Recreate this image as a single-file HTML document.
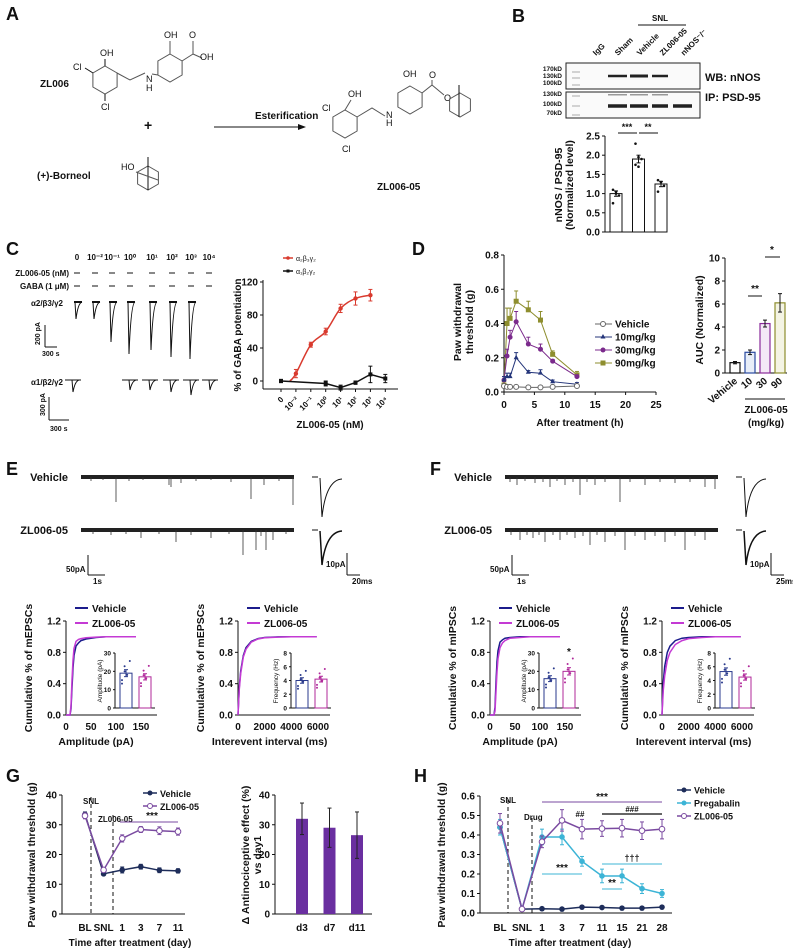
<!DOCTYPE html>
<html><head><meta charset="utf-8"><style>
html,body{margin:0;padding:0;background:#fff;}
svg{display:block;font-family:"Liberation Sans Narrow","Liberation Sans",Arial,sans-serif;}
</style></head><body>
<svg id="fig" width="793" height="951" viewBox="0 0 793 951" xmlns="http://www.w3.org/2000/svg"></svg>
<script>
// ===== DATA =====
// B
const bCats=['Sham','Vehicle','ZL006-05'];
const bVals=[1.0,1.9,1.25];
const bErr=[0.07,0.1,0.07];
const bDots=[[1.1,1.05,0.95,0.75,1.0],[2.3,1.95,1.9,1.75,1.7],[1.35,1.3,1.2,1.05]];
const bTicks=[0,0.5,1.0,1.5,2.0,2.5];
// C
const cCats=['0','10⁻²','10⁻¹','10⁰','10¹','10²','10³','10⁴'];
const cRedIdx=[1,2,3,4,5,6];
const cRedVals=[9,44,60,88,100,104];
const cRedErr=[5,3,4,5,8,7];
const cBlkIdx=[0,3,4,5,6,7];
const cBlkVals=[0,-3,-8,-2,8,3];
const cBlkErr=[2,3,3,2,10,5];
const cTicks=[0,40,80,120];
// D
const dTimes=[0,0.5,1,2,4,6,8,12];
const dVeh=[0.035,0.03,0.03,0.03,0.027,0.027,0.03,0.035];
const d10=[0.07,0.09,0.09,0.2,0.115,0.11,0.06,0.045];
const d30=[0.07,0.21,0.32,0.41,0.28,0.25,0.18,0.09];
const d90=[0.04,0.40,0.43,0.53,0.48,0.42,0.22,0.10];
const d10Err=[0.02,0.02,0.02,0.03,0.01,0.02,0.01,0.01];
const d30Err=[0.02,0.04,0.04,0.06,0.04,0.03,0.01,0.01];
const d90Err=[0.02,0.09,0.06,0.06,0.05,0.05,0.02,0.02];
const dXTicks=[0,5,10,15,20,25];
const dYTicks=[0,0.2,0.4,0.6,0.8];
const aucCats=['Vehicle','10','30','90'];
const aucVals=[0.9,1.8,4.3,6.1];
const aucErr=[0.1,0.2,0.3,0.8];
const aucTicks=[0,2,4,6,8,10];
// E/F cumulative
const ampX=[0,8,10,12,14,16,20,25,30,40,60,80,100,140];
const eAmpVeh=[0,0,0.08,0.35,0.6,0.76,0.88,0.92,0.95,0.97,0.99,1,1,1];
const eAmpZL=[0,0,0.12,0.45,0.7,0.85,0.94,0.965,0.975,0.985,0.995,1,1,1];
const fAmpVeh=[0,0,0.1,0.42,0.68,0.82,0.93,0.96,0.98,0.99,1,1,1,1];
const fAmpZL=[0,0,0.05,0.3,0.55,0.72,0.86,0.92,0.95,0.98,0.99,1,1,1];
const ivX=[0,50,100,200,400,600,1000,1500,2000,3000,4000,5900];
const eIvVeh=[0,0.2,0.36,0.56,0.76,0.86,0.94,0.975,0.99,0.997,1,1];
const eIvZL=[0,0.18,0.33,0.53,0.74,0.84,0.93,0.97,0.985,0.995,1,1];
const fIvVeh=[0,0.25,0.42,0.62,0.8,0.88,0.95,0.98,0.99,1,1,1];
const fIvZL=[0,0.18,0.32,0.5,0.7,0.8,0.9,0.95,0.975,0.99,1,1];
const eAmpBars=[19,17];
const eFreqBars=[4.0,4.2];
const fAmpBars=[16,20];
const fFreqBars=[5.3,4.5];
// G
const gCats=['BL','SNL','1','3','7','11'];
const gVeh=[33.5,13.5,14.8,15.9,14.7,14.5];
const gVehErr=[0.8,0.5,1.0,0.8,0.8,0.7];
const gZL=[33,14.8,25.4,28.4,28,27.7];
const gZLErr=[1.0,0.8,1.2,1.0,1.3,1.2];
const gYTicks=[0,10,20,30,40];
const g2Cats=['d3','d7','d11'];
const g2Vals=[32,29,26.5];
const g2Err=[5.3,6.6,7.8];
// H
const hCats=['BL','SNL','1','3','7','11','15','21','28'];
const hVeh=[0.44,0.02,0.022,0.02,0.03,0.028,0.025,0.025,0.03];
const hPre=[0.44,0.02,0.39,0.39,0.265,0.19,0.19,0.125,0.10];
const hPreErr=[0.04,0.01,0.04,0.04,0.025,0.035,0.035,0.025,0.02];
const hZL=[0.46,0.02,0.365,0.475,0.43,0.433,0.435,0.422,0.43];
const hZLErr=[0.05,0.01,0.03,0.055,0.05,0.04,0.045,0.045,0.05];
const hYTicks=[0,0.1,0.2,0.3,0.4,0.5,0.6];

// ===== HELPERS =====
const NS='http://www.w3.org/2000/svg';
const svg=document.getElementById('fig');
function mk(tag,a,name,parent){
  const el=document.createElementNS(NS,tag);
  for(const k in a) el.setAttribute(k,a[k]);
  
  
  (parent||svg).appendChild(el);
  return el;
}
function T(x,y,s,name,o){
  o=o||{};
  const a={x:x,y:y,'font-size':o.size||10,'font-weight':o.w||'bold','text-anchor':o.anchor||'start',fill:o.fill||'#111'};
  if(o.rot!==undefined) a.transform='rotate('+o.rot+' '+x+' '+y+')';
  const el=mk('text',a,name);
  el.textContent=s;
  return el;
}
function L(x1,y1,x2,y2,name,o){
  o=o||{};
  const a={x1:x1,y1:y1,x2:x2,y2:y2,stroke:o.c||'#111','stroke-width':o.w||1};
  if(o.dash) a['stroke-dasharray']=o.dash;
  return mk('line',a,name);
}
function P(d,name,o){
  o=o||{};
  return mk('path',{d:d,fill:o.fill||'none',stroke:o.c||'#111','stroke-width':o.w||1},name);
}
function lin(d0,d1,r0,r1){return v=>r0+(v-d0)*(r1-r0)/(d1-d0);}
function err(x,y1,y2,c,name){L(x,y1,x,y2,name,{c:c});L(x-2,y1,x+2,y1,name+'-cap',{c:c});L(x-2,y2,x+2,y2,name+'-cap',{c:c});}
function marker(type,x,y,c,name,s){
  s=s||3;
  if(type==='circle') return mk('circle',{cx:x,cy:y,r:s,fill:c},name);
  if(type==='open') return mk('circle',{cx:x,cy:y,r:s,fill:'#fff',stroke:c,'stroke-width':1},name);
  if(type==='tri') return mk('polygon',{points:(x)+','+(y-s-0.5)+' '+(x-s)+','+(y+s-1)+' '+(x+s)+','+(y+s-1),fill:c},name);
  if(type==='sq') return mk('rect',{x:x-s,y:y-s,width:2*s,height:2*s,fill:c},name);
}
function poly(pts){return 'M'+pts.map(p=>p[0].toFixed(1)+','+p[1].toFixed(1)).join('L');}
function smooth(pts){
  let d='M'+pts[0][0]+','+pts[0][1];
  for(let i=0;i<pts.length-1;i++){
    const p0=pts[Math.max(0,i-1)],p1=pts[i],p2=pts[i+1],p3=pts[Math.min(pts.length-1,i+2)];
    d+='C'+(p1[0]+(p2[0]-p0[0])/6)+','+(p1[1]+(p2[1]-p0[1])/6)+' '+(p2[0]-(p3[0]-p1[0])/6)+','+(p2[1]-(p3[1]-p1[1])/6)+' '+p2[0]+','+p2[1];
  }
  return d;
}
function hex(cx,cy,r,name){
  const pts=[];for(let i=0;i<6;i++){const a=Math.PI/180*(60*i-90);pts.push([cx+r*Math.cos(a),cy+r*Math.sin(a)]);}
  P(poly(pts)+'Z',name,{c:'#555',w:1});
  return pts;
}
function yTicks(ax,sy,ticks,fmt,name,len){
  ticks.forEach(t=>{L(ax-(len||3),sy(t),ax,sy(t),name+'-tick');T(ax-5,sy(t)+3.5,fmt(t),name+'-label',{anchor:'end',size:10});});
}

// ===== PANEL A =====
T(6,20,'A','panel-label-a',{size:18});
T(40,87,'ZL006','zl006-label',{size:10});
hex(105,80,14,'zl006-ring-1');
T(100,56,'OH','oh-label',{size:9,w:'normal'});L(105,66,105,59,'bond');
T(73,70,'Cl','cl-label',{size:9,w:'normal'});L(93,73,85,68,'bond');
T(101,110,'Cl','cl-label',{size:9,w:'normal'});L(105,94,105,101,'bond');
P('M117,73 L130,80 L145,73','bond-chain',{c:'#555'});
T(146,82,'N','n-label',{size:9,w:'normal'});T(146,91,'H','h-label',{size:9,w:'normal'});
hex(170,68,14,'zl006-ring-2');L(152,74,158,75,'bond',{c:'#555'});
T(164,38,'OH','oh-label',{size:9,w:'normal'});L(170,54,170,41,'bond',{c:'#555'});
P('M182,61 L193,54 L193,41 M193,54 L202,58','acid-bond',{c:'#555'});
T(189,38,'O','o-label',{size:9,w:'normal'});T(200,60,'OH','oh-label',{size:9,w:'normal'});
T(144,130,'+','plus-sign',{size:14});
T(37,179,'(+)-Borneol','borneol-label',{size:10});
T(121,170,'HO','ho-label',{size:9,w:'normal'});
hex(148,178,12,'borneol-ring');L(148,157,148,190,'borneol-bridge');L(136,172,158,180,'borneol-bond',{c:'#555'});
T(255,119,'Esterification','esterification-label',{size:10});
L(214,127,300,127,'reaction-arrow');mk('polygon',{points:'306,127 298,124 298,130',fill:'#111'},'arrow-head');
hex(345,124,14,'product-ring-1');
T(348,97,'OH','oh-label',{size:9,w:'normal'});L(345,110,351,100,'bond',{c:'#555'});
T(322,111,'Cl','cl-label',{size:9,w:'normal'});
T(342,152,'Cl','cl-label',{size:9,w:'normal'});
P('M357,117 L372,108 L385,116','bond-chain',{c:'#555'});
T(386,118,'N','n-label',{size:9,w:'normal'});T(386,126,'H','h-label',{size:9,w:'normal'});
hex(410,100,14,'product-ring-2');
T(403,77,'OH','oh-label',{size:9,w:'normal'});
P('M422,93 L432,85 L432,80 M432,85 L444,95','ester-bond',{c:'#555'});
T(429,78,'O','o-label',{size:9,w:'normal'});T(444,101,'O','o-label',{size:9,w:'normal'});
hex(460,105,12,'product-borneol');L(459,85,459,117,'borneol-bridge');
T(377,190,'ZL006-05','zl006-05-label',{size:10});

// ===== PANEL B =====
T(512,22,'B','panel-label-b',{size:18});
T(660,21,'SNL','snl-label',{size:8,anchor:'middle'});L(638,25,686,25,'snl-bracket');
[['IgG',596],['Sham',618],['Vehicle',640],['ZL006-05',663],['nNOS⁻/⁻',684]].forEach(l=>T(l[1],56,l[0],'lane-label',{size:8,rot:-45}));
mk('rect',{x:566,y:63,width:134,height:26,fill:'#fafafa',stroke:'#222','stroke-width':1},'wb-blot');
mk('rect',{x:566,y:92,width:134,height:26,fill:'#fafafa',stroke:'#222','stroke-width':1},'ip-blot');
[['170kD',71],['130kD',78],['100kD',85],['130kD',96],['100kD',106],['70kD',115]].forEach(m=>T(562,m[1],m[0],'mw-label',{size:6.5,anchor:'end'}));
[[608,627,76,2.5],[630,648,76,3],[652,668,76,2.5],[608,627,106,3.5],[630,648,106,3.5],[652,668,106,3.5],[673,692,106,3.5]].forEach(b=>mk('rect',{x:b[0],y:b[2]-b[3]/2,width:b[1]-b[0],height:b[3],fill:'#222'},'blot-band'));
[[608,627],[630,648],[652,668]].forEach(b=>mk('rect',{x:b[0],y:94,width:b[1]-b[0],height:1.5,fill:'#999'},'faint-band'));
[72,78,85,96,106,115].forEach(y=>L(572,y,580,y,'ladder-band',{c:'#aaa'}));
T(705,81,'WB: nNOS','wb-label',{size:11});
T(705,101,'IP: PSD-95','ip-label',{size:11});
(function(){
  const sy=lin(0,2.5,232,136), ax=605;
  L(ax,136,ax,232,'b-y-axis');L(ax,232,665,232,'b-x-axis');
  yTicks(ax,sy,bTicks,t=>t.toFixed(1),'b-y');
  T(562,185,'nNOS / PSD-95','b-y-title',{size:10.5,anchor:'middle',rot:-90});
  T(573,185,'(Normalized level)','b-y-title-2',{size:10.5,anchor:'middle',rot:-90});
  bVals.forEach((v,i)=>{
    const cx=616+i*22.5;
    mk('rect',{x:cx-6,y:sy(v),width:12,height:232-sy(v),fill:'#fff',stroke:'#111','stroke-width':1},'b-bar-'+bCats[i]);
    err(cx,sy(v+bErr[i]),sy(v-bErr[i]),'#111','b-err');
    bDots[i].forEach((d,j)=>marker('circle',cx-3+(j%3)*3,sy(d),'#111','b-dot',1.3));
  });
  L(618,133,637,133,'b-sig-line');T(627,130,'***','b-sig',{size:9,anchor:'middle'});
  L(639,133,658,133,'b-sig-line');T(648,130,'**','b-sig',{size:9,anchor:'middle'});
})();

// ===== PANEL C =====
T(6,255,'C','panel-label-c',{size:18});
const cCols=[77,95,112,130,152,172,191,209];
cCats.forEach((c,i)=>T(cCols[i],260,c,'c-conc-header',{size:8,anchor:'middle'}));
T(69,276,'ZL006-05 (nM)','c-drug-row',{size:8,anchor:'end'});
T(69,289,'GABA (1 μM)','c-gaba-row',{size:8,anchor:'end'});
cCols.forEach(x=>{L(x-3,273,x+3,273,'drug-dash');L(x-3,286,x+3,286,'gaba-dash');});
T(63,306,'α2/β3/γ2','c-a2-label',{size:8,anchor:'end'});
const a2Depth=[17,17,40,52,48,55,57,0];
cCols.forEach((x,i)=>{if(!a2Depth[i])return;L(x-3,302,x+5,302,'trace-base',{w:2});P('M'+(x-2)+',302 L'+(x-1)+','+(302+a2Depth[i])+' Q'+(x+1)+','+(303)+' '+(x+5)+',302','c-a2-trace');});
L(45,325,45,347,'c-scale-v');L(45,347,57,347,'c-scale-h');T(40,345,'200 pA','c-scale-label',{size:7,rot:-90});T(42,356,'300 s','c-scale-label',{size:7});
T(63,385,'α1/β2/γ2','c-a1-label',{size:8,anchor:'end'});
const a1X=[73,0,0,130,150,171,191,210], a1Depth=[12,0,0,10,10,12,15,10];
a1X.forEach((x,i)=>{if(!x)return;L(x-8,380,x+8,380,'trace-base');P('M'+(x-1)+',380 L'+x+','+(380+a1Depth[i])+' Q'+(x+2)+',381 '+(x+6)+',380','c-a1-trace');});
L(49,397,49,420,'c-scale-v');L(49,420,69,420,'c-scale-h');T(45,416,'300 pA','c-scale-label',{size:7,rot:-90});T(50,431,'300 s','c-scale-label',{size:7});
(function(){
  const sy=lin(0,40,381,348), sx=i=>281+i*14.9, ax=263;
  L(ax,280,ax,389,'c-y-axis');L(ax,389,398,389,'c-x-axis');
  yTicks(ax,sy,cTicks,t=>String(t),'c-y');
  cCats.forEach((c,i)=>{L(sx(i),389,sx(i),392,'c-x-tick');T(sx(i)+3,400,c,'c-x-label',{size:8,anchor:'end',rot:-45});});
  T(330,428,'ZL006-05 (nM)','c-x-title',{size:10,anchor:'middle'});
  T(241,335,'% of GABA potentiation','c-y-title',{size:10,anchor:'middle',rot:-90});
  const red=[[sx(0.6),sy(0)]].concat(cRedIdx.map((k,j)=>[sx(k),sy(cRedVals[j])]));
  P(smooth(red),'c-red-fit',{c:'#d93a2e',w:1.5});
  cRedIdx.forEach((k,j)=>{err(sx(k),sy(cRedVals[j]+cRedErr[j]),sy(cRedVals[j]-cRedErr[j]),'#d93a2e','c-red-err');marker('circle',sx(k),sy(cRedVals[j]),'#d93a2e','c-red-point',2.2);});
  P(poly(cBlkIdx.map((k,j)=>[sx(k),sy(cBlkVals[j])])),'c-black-line',{c:'#111',w:1.5});
  cBlkIdx.forEach((k,j)=>{err(sx(k),sy(cBlkVals[j]+cBlkErr[j]),sy(cBlkVals[j]-cBlkErr[j]),'#111','c-black-err');marker('sq',sx(k),sy(cBlkVals[j]),'#111','c-black-point',2);});
  L(283,258,293,258,'c-legend-red',{c:'#d93a2e',w:1.5});marker('circle',288,258,'#d93a2e','c-legend-marker',1.8);T(296,261,'α₂β₃γ₂','c-legend-text',{size:7,w:'normal'});
  L(283,271,293,271,'c-legend-black',{w:1.5});marker('sq',288,271,'#111','c-legend-marker',1.5);T(296,274,'α₁β₂γ₂','c-legend-text',{size:7,w:'normal'});
})();

// ===== PANEL D =====
T(412,255,'D','panel-label-d',{size:18});
(function(){
  const sx=lin(0,25,504,656), sy=lin(0,0.8,392,255), ax=504;
  L(ax,255,ax,392,'d-y-axis');L(ax,392,656,392,'d-x-axis');
  yTicks(ax,sy,dYTicks,t=>t.toFixed(1),'d-y');
  dXTicks.forEach(t=>{L(sx(t),392,sx(t),395,'d-x-tick');T(sx(t),408,String(t),'d-x-label',{size:10,anchor:'middle'});});
  T(580,426,'After treatment (h)','d-x-title',{size:10,anchor:'middle'});
  T(461,322,'Paw withdrawal','d-y-title',{size:10.5,anchor:'middle',rot:-90});
  T(473,322,'threshold (g)','d-y-title-2',{size:10.5,anchor:'middle',rot:-90});
  const series=[[d90,d90Err,'#8e8e2e','sq','90mg/kg'],[d30,d30Err,'#7b2a8c','circle','30mg/kg'],[d10,d10Err,'#24357a','tri','10mg/kg'],[dVeh,null,'#666','open','Vehicle']];
  series.forEach(s=>{
    P(poly(dTimes.map((t,i)=>[sx(t),sy(s[0][i])])),'d-line-'+s[4],{c:s[2],w:1});
    dTimes.forEach((t,i)=>{if(s[1]){L(sx(t),sy(s[0][i]),sx(t),sy(s[0][i]+s[1][i]),'d-err',{c:s[2]});L(sx(t)-2,sy(s[0][i]+s[1][i]),sx(t)+2,sy(s[0][i]+s[1][i]),'d-err-cap',{c:s[2]});}marker(s[3],sx(t),sy(s[0][i]),s[2],'d-point-'+s[4],2.5);});
  });
  [['Vehicle','#666','open',324],['10mg/kg','#24357a','tri',337],['30mg/kg','#7b2a8c','circle',350],['90mg/kg','#8e8e2e','sq',363]].forEach(l=>{
    L(595,l[3],612,l[3],'d-legend-line',{c:l[1]});marker(l[2],603,l[3],l[1],'d-legend-marker',2.5);T(615,l[3]+3.5,l[0],'d-legend-text',{size:10});
  });
})();
(function(){
  const sy=lin(0,10,373,258), ax=725;
  L(ax,258,ax,373,'auc-y-axis');L(ax,373,787,373,'auc-x-axis');
  yTicks(ax,sy,aucTicks,t=>String(t),'auc-y');
  T(703,320,'AUC (Normalized)','auc-y-title',{size:10.5,anchor:'middle',rot:-90});
  const cols=['#111','#2a4aa0','#8a2a9a','#8e8e2e'], fills=['#fff','#e8eef8','#f4e8f6','#f4f4e4'];
  aucVals.forEach((v,i)=>{
    const cx=735+i*15;
    mk('rect',{x:cx-5,y:sy(v),width:10,height:373-sy(v),fill:fills[i],stroke:cols[i],'stroke-width':1.2},'auc-bar-'+aucCats[i]);
    err(cx,sy(v+aucErr[i]),sy(v-aucErr[i]),'#111','auc-err');
    T(cx+3,382,aucCats[i],'auc-x-label',{size:10,anchor:'end',rot:-40});
  });
  L(745,399,785,399,'auc-group-line');
  T(766,413,'ZL006-05','auc-group-label',{size:10,anchor:'middle'});
  T(766,426,'(mg/kg)','auc-group-unit',{size:10,anchor:'middle'});
  L(748,296,762,296,'auc-sig-line');T(755,292,'**','auc-sig',{size:10,anchor:'middle'});
  L(765,257,780,257,'auc-sig-line');T(772,253,'*','auc-sig',{size:10,anchor:'middle'});
})();

// ===== PANELS E & F =====
function ephys(dx,letter,ylabel,freqLab,ampBars,freqBars,ampV,ampZ,ivV,ivZ,spikesV,spikesZ,tscale,sigAmp){
  T(dx+6,475,letter,'panel-label-'+letter.toLowerCase(),{size:18});
  T(dx+68,481,'Vehicle','trace-label-vehicle',{size:11,anchor:'end'});
  T(dx+68,534,'ZL006-05','trace-label-zl',{size:11,anchor:'end'});
  [[477,spikesV],[530,spikesZ]].forEach(r=>{
    mk('rect',{x:dx+81,y:r[0]-2,width:213,height:4,fill:'#222'},'trace-baseline');
    r[1].forEach(s=>L(dx+81+s[0],r[0],dx+81+s[0],r[0]+s[1],'trace-event',{c:'#333',w:0.8}));
  });
  L(dx+312,477,dx+318,477,'avg-base');P('M'+(dx+320)+',478 L'+(dx+322)+',517 Q'+(dx+326)+',480 '+(dx+342)+',479','avg-trace-vehicle');
  L(dx+312,530,dx+318,530,'avg-base');P('M'+(dx+320)+',531 L'+(dx+322)+',565 Q'+(dx+326)+',532 '+(dx+342)+',531','avg-trace-zl',{w:1.5});
  L(dx+88,555,dx+88,575,'scale-v');L(dx+88,575,dx+105,575,'scale-h');T(dx+66,572,'50pA','scale-label',{size:8});T(dx+93,584,'1s','scale-label',{size:8});
  L(dx+347,553,dx+347,575,'scale-v');L(dx+347,575,dx+360,575,'scale-h');T(dx+326,567,'10pA','scale-label',{size:8});T(dx+352,584,tscale,'scale-label',{size:8});
  const syc=lin(0,1.2,715,621);
  const plots=[[66,lin(0,150,66,141),157,ampX,ampV,ampZ,[0,50,100,150],'Amplitude (pA)',115,'Amplitude (pA)',ampBars,30,[0,10,20,30]],
               [238,lin(0,6000,238,318),330,ivX,ivV,ivZ,[0,2000,4000,6000],'Interevent interval (ms)',291,freqLab,freqBars,8,[0,2,4,6,8]]];
  plots.forEach((p,pi)=>{
    const ax=dx+p[0], sx=v=>dx+p[1](v);
    L(ax,621,ax,715,'cum-y-axis');L(ax,715,dx+p[2],715,'cum-x-axis');
    yTicks(ax,syc,[0,0.4,0.8,1.2],t=>t.toFixed(1),'cum-y');
    p[6].forEach(t=>T(sx(t),730,String(t),'cum-x-label',{size:10,anchor:'middle'}));
    T(sx(p[6][1])+5,745,p[7],'cum-x-title',{size:10.5,anchor:'middle'});
    T(ax-34,668,'Cumulative % of '+ylabel,'cum-y-title',{size:10.5,anchor:'middle',rot:-90});
    P(poly(p[3].map((x,i)=>[sx(x),syc(p[4][i])])),'cum-curve-vehicle',{c:'#1c1c8c',w:1.5});
    P(poly(p[3].map((x,i)=>[sx(x),syc(p[5][i])])),'cum-curve-zl',{c:'#c43ad4',w:1.5});
    L(ax+9,608,ax+22,608,'legend-vehicle',{c:'#1c1c8c',w:2});T(ax+26,612,'Vehicle','legend-text',{size:10});
    L(ax+9,623,ax+22,623,'legend-zl',{c:'#c43ad4',w:2});T(ax+26,627,'ZL006-05','legend-text',{size:10});
    const ix=dx+p[8], isy=lin(0,p[11],708,653);
    L(ix,653,ix,708,'inset-y-axis');L(ix,708,ix+40,708,'inset-x-axis');
    p[12].forEach(t=>{L(ix-2,isy(t),ix,isy(t),'inset-tick');T(ix-4,isy(t)+2.5,String(t),'inset-tick-label',{size:6.5,anchor:'end'});});
    T(ix-13,681,p[9],'inset-y-title',{size:6.5,anchor:'middle',rot:-90,w:'normal'});
    p[10].forEach((v,i)=>{
      const c=i?'#b0289a':'#2a3a8c', bx=ix+5+i*19;
      mk('rect',{x:bx,y:isy(v),width:12,height:708-isy(v),fill:'#fff',stroke:c,'stroke-width':1},'inset-bar');
      err(bx+6,isy(v*1.1),isy(v*0.9),c,'inset-err');
      [0.7,1.2,0.95,1.35,0.8,1.05].forEach((f,j)=>marker('circle',bx+2+(j%4)*2.6,isy(v*f),c,'inset-dot',1));
    });
    if(sigAmp&&pi===0) T(ix+30,isy(29),'*','inset-sig',{size:10,anchor:'middle'});
  });
}
ephys(0,'E','mEPSCs','Frequency (Hz)',eAmpBars,eFreqBars,eAmpVeh,eAmpZL,eIvVeh,eIvZL,
  [[10,4],[22,3],[35,25],[48,4],[62,3],[88,8],[90,10],[100,6],[115,4],[130,3],[150,5],[170,22],[183,8],[198,4],[212,28]],
  [[12,4],[30,5],[45,4],[60,8],[78,4],[95,12],[110,5],[130,8],[148,4],[162,25],[175,20],[180,6],[185,20],[192,10],[205,4]],'20ms',false);
ephys(424,'F','mIPSCs','Frequency (Hz)',fAmpBars,fFreqBars,fAmpVeh,fAmpZL,fIvVeh,fIvZL,
  [[5,5],[12,8],[20,4],[30,6],[38,5],[45,10],[52,4],[60,8],[68,5],[75,18],[82,5],[90,8],[100,5],[115,25],[125,5],[140,8],[155,5],[170,6],[185,5],[200,10],[210,12]],
  [[6,5],[15,10],[22,5],[28,8],[34,5],[40,12],[48,5],[55,10],[62,5],[70,8],[78,6],[85,15],[92,5],[100,12],[110,6],[120,20],[130,6],[140,10],[150,6],[160,12],[170,6],[180,20],[190,6],[200,10]],'25ms',true);

// ===== PANEL G =====
T(6,782,'G','panel-label-g',{size:18});
(function(){
  const sy=lin(0,40,914,795), sx=i=>85+i*18.6, ax=62;
  L(ax,795,ax,914,'g-y-axis');L(ax,914,185,914,'g-x-axis');
  yTicks(ax,sy,gYTicks,t=>String(t),'g-y');
  gCats.forEach((c,i)=>T(sx(i),931,c,'g-x-label',{size:10,anchor:'middle'}));
  T(130,946,'Time after treatment (day)','g-x-title',{size:10,anchor:'middle'});
  T(35,855,'Paw withdrawal threshold (g)','g-y-title',{size:10.5,anchor:'middle',rot:-90});
  L(91,797,91,914,'g-snl-dash',{dash:'4,3'});L(113,815,113,914,'g-drug-dash',{dash:'4,3'});
  T(83,804,'SNL','g-snl-label',{size:8});T(98,822,'ZL006-05','g-drug-label',{size:8});
  L(120,822,178,822,'g-sig-line',{c:'#7a4aa0'});T(152,819,'***','g-sig',{size:10,anchor:'middle'});
  [[gVeh,gVehErr,'#1e2d5a','circle'],[gZL,gZLErr,'#7a4aa0','open']].forEach(s=>{
    P(poly(s[0].map((v,i)=>[sx(i),sy(v)])),'g-line',{c:s[2],w:1.5});
    s[0].forEach((v,i)=>{err(sx(i),sy(v+s[1][i]),sy(v-s[1][i]),s[2],'g-err');marker(s[3],sx(i),sy(v),s[2],'g-point',2.8);});
  });
  L(143,793,157,793,'g-legend-line',{c:'#1e2d5a',w:1.5});marker('circle',150,793,'#1e2d5a','g-legend-marker',2.5);T(160,797,'Vehicle','g-legend-text',{size:9});
  L(143,806,157,806,'g-legend-line',{c:'#7a4aa0',w:1.5});marker('open',150,806,'#7a4aa0','g-legend-marker',2.5);T(160,810,'ZL006-05','g-legend-text',{size:9});
})();
(function(){
  const sy=lin(0,40,914,795), ax=275;
  L(ax,795,ax,914,'g2-y-axis');L(ax,914,372,914,'g2-x-axis');
  yTicks(ax,sy,gYTicks,t=>String(t),'g2-y');
  T(249,855,'Δ Antinociceptive effect (%)','g2-y-title',{size:10.5,anchor:'middle',rot:-90});
  T(261,855,'vs day1','g2-y-title-2',{size:10.5,anchor:'middle',rot:-90});
  g2Vals.forEach((v,i)=>{
    const cx=302+i*27.5;
    mk('rect',{x:cx-6,y:sy(v),width:12,height:914-sy(v),fill:'#6a2fa0'},'g2-bar-'+g2Cats[i]);
    err(cx,sy(v+g2Err[i]),sy(v-g2Err[i]),'#222','g2-err');
    T(cx,931,g2Cats[i],'g2-x-label',{size:10,anchor:'middle'});
  });
})();

// ===== PANEL H =====
T(414,782,'H','panel-label-h',{size:18});
(function(){
  const sy=lin(0,0.6,913,796), ax=480;
  const sx=i=>500+(i===0?0:i===1?22:22+(i-1)*20);
  L(ax,796,ax,913,'h-y-axis');L(ax,913,672,913,'h-x-axis');
  yTicks(ax,sy,hYTicks,t=>t.toFixed(1),'h-y');
  hCats.forEach((c,i)=>T(sx(i),931,c,'h-x-label',{size:10,anchor:'middle'}));
  T(570,946,'Time after treatment (day)','h-x-title',{size:10,anchor:'middle'});
  T(445,855,'Paw withdrawal threshold (g)','h-y-title',{size:10.5,anchor:'middle',rot:-90});
  L(508,800,508,913,'h-snl-dash',{dash:'4,3'});L(532,818,532,913,'h-drug-dash',{dash:'4,3'});
  T(500,803,'SNL','h-snl-label',{size:8});T(524,820,'Drug','h-drug-label',{size:8});
  [[hVeh,null,'#1e2d5a','circle'],[hPre,hPreErr,'#3cb4d6','circle'],[hZL,hZLErr,'#7a4aa0','open']].forEach(s=>{
    P(poly(s[0].map((v,i)=>[sx(i),sy(v)])),'h-line',{c:s[2],w:1.5});
    s[0].forEach((v,i)=>{if(s[1])err(sx(i),sy(v+s[1][i]),sy(v-s[1][i]),s[2],'h-err');marker(s[3],sx(i),sy(v),s[2],'h-point',2.8);});
  });
  L(542,802,662,802,'h-sig-zl',{c:'#7a4aa0'});T(602,800,'***','h-sig',{size:10,anchor:'middle'});
  T(580,817,'##','h-sig',{size:8,anchor:'middle'});
  L(602,814,662,814,'h-sig-hash',{c:'#333',w:1.5});T(632,812,'###','h-sig',{size:8,anchor:'middle'});
  L(602,864,662,864,'h-sig-dagger',{c:'#3cb4d6'});T(632,861,'†††','h-sig',{size:9,anchor:'middle'});
  L(542,874,582,874,'h-sig-pre',{c:'#3cb4d6'});T(562,871,'***','h-sig',{size:10,anchor:'middle'});
  L(602,889,622,889,'h-sig-pre2',{c:'#3cb4d6'});T(612,886,'**','h-sig',{size:10,anchor:'middle'});
  [['Vehicle','#1e2d5a','circle',790],['Pregabalin','#3cb4d6','circle',803],['ZL006-05','#7a4aa0','open',816]].forEach(l=>{
    L(677,l[3],691,l[3],'h-legend-line',{c:l[1],w:1.5});marker(l[2],684,l[3],l[1],'h-legend-marker',2.5);T(694,l[3]+3.5,l[0],'h-legend-text',{size:9});
  });
})();
</script>
</body></html>
